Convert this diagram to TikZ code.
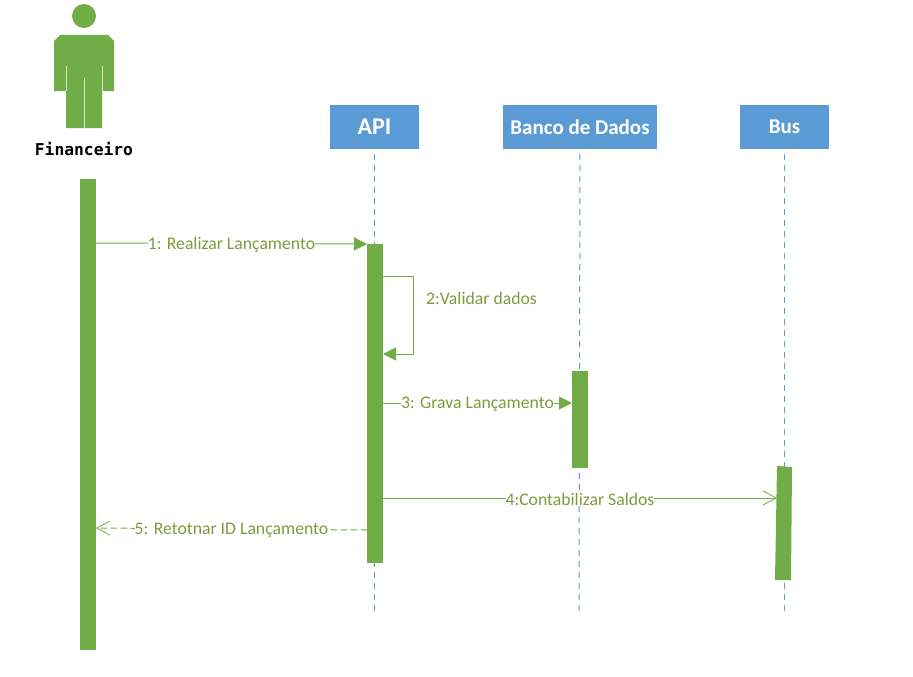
\documentclass[tikz,border=0pt]{standalone}
\usepackage{fontspec}
\setmainfont{Carlito}
\newfontfamily\actorfont{DejaVu Sans Mono}
\usetikzlibrary{arrows.meta,calc}
\definecolor{hdrblue}{HTML}{5B9BD5}
\definecolor{sqgreen}{HTML}{70AD47}
\definecolor{lblolive}{HTML}{7F9B3C}
\tikzset{
  hdr/.style={fill=hdrblue,text=white,font=\bfseries\fontsize{21}{23}\selectfont,inner sep=0pt,outer sep=0pt,minimum height=44pt,anchor=north west},
  bar/.style={fill=sqgreen,inner sep=0pt,outer sep=0pt,minimum width=16pt,anchor=north west},
  life/.style={hdrblue,line width=1pt,dash pattern=on 6pt off 5pt,dash phase=6pt},
  msgline/.style={sqgreen,line width=1pt},
  solidmsg/.style={msgline,-{Triangle[length=13pt,width=13pt]}},
  openmsg/.style={msgline,-{Straight Barb[length=13pt,width=14pt,line width=0.8pt]}},
  retmsg/.style={openmsg,dash pattern=on 6.5pt off 3.5pt},
  lbl/.style={fill=white,text=lblolive,font=\fontsize{17.7}{19}\selectfont,inner xsep=0pt,inner ysep=1pt},
  slit/.style={white,line width=1pt,opacity=.7}
}
\begin{document}
\begin{tikzpicture}[x=1pt,y=-1pt]
\useasboundingbox (0,0) rectangle (913,677);
% actor
\node[circle,fill=sqgreen,minimum size=24pt,inner sep=0pt] (head) at (84,16) {};
\fill[sqgreen] (60,35) -- (108,35) -- (114,41) -- (114,91) -- (102,91) -- (102,128) -- (66,128) -- (66,91) -- (54,91) -- (54,41) -- cycle;
\draw[slit] (66,66) -- (66,91);
\draw[slit] (102,66) -- (102,91);
\draw[slit] (84,78) -- (84,128);
\node[font=\actorfont\bfseries\fontsize{16.3}{18}\selectfont,inner sep=0pt] (actor) at (84,149) {Financeiro};
% headers
\node[hdr,minimum width=89pt,font=\bfseries\fontsize{24}{26}\selectfont] (api) at (330,105) {API};
\node[hdr,minimum width=154pt] (db) at (503,105) {Banco de Dados};
\node[hdr,minimum width=89pt] (bus) at (740,105) {Bus};
% lifelines
\coordinate (apiend) at (374.5,611);
\coordinate (dbend) at (579,611);
\coordinate (busend) at (784.5,611);
\draw[life] (api.south) -- (apiend);
\draw[life] (db.south) -- (dbend);
\draw[life] (bus.south) -- (busend);
% activation bars
\node[bar,minimum height=471pt] (finbar) at (80,179) {};
\node[bar,minimum height=319pt] (apibar) at (367,244) {};
\node[bar,minimum height=97pt] (dbbar) at (572,371) {};
\fill[sqgreen] (777,466) -- (792,467) -- (791,580) -- (775,580) -- cycle;
\coordinate (busbar) at (777,498);
% messages
\draw[solidmsg] (finbar.east |- 0,243) -- node[lbl,yshift=-1pt] {1: Realizar Lançamento} (apibar.west |- 0,244);
\draw[solidmsg] (apibar.east |- 0,276.5) -| (413.5,354) -- (apibar.east |- 0,354);
\node[lbl,anchor=west] (m2) at (426,298.5) {2:Validar dados};
\draw[solidmsg] (apibar.east |- 0,403) -- node[lbl,yshift=-1pt] {3: Grava Lançamento} (dbbar.west |- 0,403);
\draw[openmsg] (apibar.east |- 0,498) -- node[lbl,yshift=-1pt] {4:Contabilizar Saldos} (busbar);
\draw[retmsg] (apibar.west |- 0,530) -- node[lbl,yshift=-1pt] {5: Retotnar ID Lançamento} (finbar.east |- 0,528);
\end{tikzpicture}
\end{document}
